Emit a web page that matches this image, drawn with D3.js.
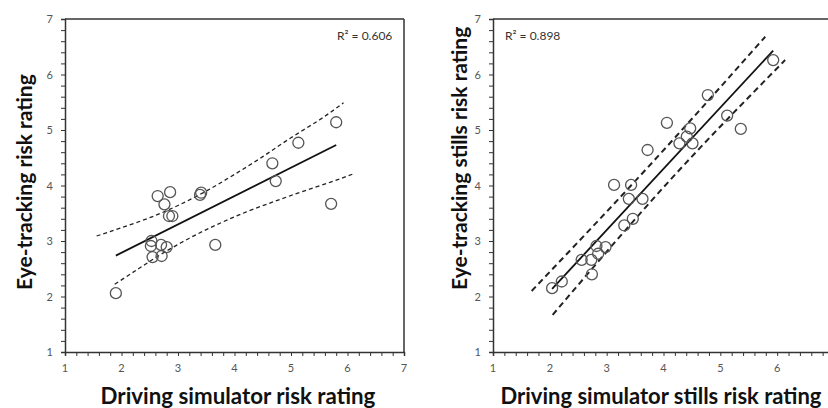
<!DOCTYPE html>
<html><head><meta charset="utf-8">
<script src="https://cdn.jsdelivr.net/npm/d3@7"></script>
<style>body{margin:0;background:#fff}svg{display:block}</style>
</head><body><svg id="c" width="828" height="408"></svg>
<script>
// ---- data ----
const leftSim   = [2.64,2.86,2.76,2.84,2.90,3.39,3.41,2.53,2.52,2.70,2.80,2.55,2.71,3.66,1.90,5.80,5.13,4.67,4.73,5.71];
const leftEye   = [3.81,3.88,3.66,3.45,3.45,3.83,3.87,3.00,2.91,2.93,2.89,2.71,2.73,2.93,2.06,5.14,4.77,4.40,4.08,3.67];
const rightSim  = [3.13,3.43,3.39,3.63,3.31,3.46,2.82,2.98,2.85,2.56,2.73,2.74,2.21,2.04,5.93,4.78,4.06,5.12,5.36,4.47,4.41,4.28,4.51,3.72];
const rightEye  = [4.01,4.01,3.76,3.76,3.28,3.40,2.91,2.89,2.77,2.66,2.66,2.40,2.27,2.15,6.26,5.63,5.13,5.26,5.02,5.03,4.88,4.76,4.76,4.64];
const leftUpperX = [1.56,2.0,2.5,3.0,3.5,4.0,4.5,5.0,5.5,5.93];
const leftUpperY = [3.09,3.24,3.42,3.64,3.90,4.20,4.52,4.86,5.18,5.49];
const leftLowerX = [1.88,2.3,2.7,3.2,3.7,4.2,4.7,5.2,5.7,6.13];
const leftLowerY = [2.22,2.50,2.76,3.05,3.30,3.52,3.71,3.89,4.06,4.22];
const rightUpperX = [1.68,3.7,5.79];
const rightUpperY = [2.10,4.30,6.68];
const rightLowerX = [2.05,4.1,6.14];
const rightLowerY = [1.67,4.08,6.26];
const majorTicks = [1,2,3,4,5,6,7];
const minorTicks = d3.range(1,7.001,0.2);
const leftR2 = "R² = 0.606";
const rightR2 = "R² = 0.898";
const leftXTitle = "Driving simulator risk rating";
const leftYTitle = "Eye-tracking risk rating";
const rightXTitle = "Driving simulator stills risk rating";
const rightYTitle = "Eye-tracking stills risk rating";

const W = 828;
const svg = d3.select("#c");

function regression(xs, ys){
  const n = xs.length, mx = d3.mean(xs), my = d3.mean(ys);
  let sxy=0, sxx=0;
  for(let i=0;i<n;i++){ sxy+=(xs[i]-mx)*(ys[i]-my); sxx+=(xs[i]-mx)**2; }
  const b = sxy/sxx, a = my - b*mx;
  return x => a + b*x;
}

function panel(cfg){
  const x = d3.scaleLinear().domain([1,7]).range([cfg.x0, cfg.x1]);
  const y = d3.scaleLinear().domain([1,7]).range([352, 19]);
  const g = svg.append("g");
  // frame top and right
  g.append("line").attr("x1",x(1)).attr("x2",x(7)).attr("y1",y(7)).attr("y2",y(7))
    .attr("stroke","#333").attr("stroke-width",1.5);
  g.append("line").attr("x1",x(7)).attr("x2",x(7)).attr("y1",y(7)).attr("y2",y(1))
    .attr("stroke","#333").attr("stroke-width",1.5);
  // axes
  const xa = g.append("g").attr("transform",`translate(0,${y(1)})`)
    .call(d3.axisBottom(x).tickValues(minorTicks).tickSize(4).tickFormat(""));
  const ya = g.append("g").attr("transform",`translate(${x(1)},0)`)
    .call(d3.axisLeft(y).tickValues(minorTicks).tickSize(4).tickFormat(""));
  [xa,ya].forEach(a=>{
    a.select(".domain").attr("stroke","#333").attr("stroke-width",1.5);
    a.selectAll(".tick line").attr("stroke","#333").attr("stroke-width",1);
  });
  const lab = g.append("g").attr("font-family","Lato, 'Open Sans', sans-serif")
    .attr("font-size",11).attr("fill","#555");
  lab.selectAll(".xl").data(majorTicks.filter(d=>x(d)+4<W)).join("text")
    .attr("x",d=>x(d)).attr("y",y(1)+20).attr("text-anchor","middle").text(d=>d);
  lab.selectAll(".yl").data(majorTicks).join("text")
    .attr("x",x(1)-12).attr("y",d=>y(d)+4).attr("text-anchor","end").text(d=>d);
  // titles
  g.append("text").attr("x",cfg.xTitleX).attr("y",404).attr("text-anchor","middle")
    .attr("font-family","Lato, sans-serif").attr("font-weight","bold").attr("font-size",cfg.xTitleSize)
    .attr("fill","#111").text(cfg.xTitle);
  g.append("text").attr("transform",`translate(${cfg.yTitleX},290) rotate(-90)`)
    .attr("text-anchor","start")
    .attr("font-family","Lato, sans-serif").attr("font-weight","bold").attr("font-size",21)
    .attr("fill","#111").text(cfg.yTitle);
  g.append("text").attr("x",cfg.r2x).attr("y",40)
    .attr("font-family","Lato, 'Open Sans', sans-serif").attr("font-size",12).attr("fill","#333")
    .text(cfg.r2);
  // bands
  const line = d3.line().x(d=>x(d[0])).y(d=>y(d[1])).curve(d3.curveNatural);
  [[cfg.ux,cfg.uy],[cfg.lx,cfg.ly]].forEach(([xs,ys])=>{
    g.append("path").attr("d",line(xs.map((v,i)=>[v,ys[i]])))
      .attr("fill","none").attr("stroke","#222").attr("stroke-width",cfg.dashW)
      .attr("stroke-dasharray",cfg.dash);
  });
  // fit
  const f = regression(cfg.xs, cfg.ys);
  const [mn,mx] = d3.extent(cfg.xs);
  g.append("line").attr("x1",x(mn)).attr("y1",y(f(mn))).attr("x2",x(mx)).attr("y2",y(f(mx)))
    .attr("stroke","#111").attr("stroke-width",1.8);
  // points
  g.selectAll("circle").data(cfg.xs.map((v,i)=>[v,cfg.ys[i]])).join("circle")
    .attr("cx",d=>x(d[0])).attr("cy",d=>y(d[1])).attr("r",5.5)
    .attr("fill","none").attr("stroke","#555").attr("stroke-width",1.3);
}

panel({x0:65,x1:404,xs:leftSim,ys:leftEye,ux:leftUpperX,uy:leftUpperY,lx:leftLowerX,ly:leftLowerY,
  xTitle:leftXTitle,xTitleX:238,xTitleSize:22.3,yTitle:leftYTitle,yTitleX:32,r2:leftR2,r2x:337,dash:"4,3",dashW:1.3});
panel({x0:493,x1:834,xs:rightSim,ys:rightEye,ux:rightUpperX,uy:rightUpperY,lx:rightLowerX,ly:rightLowerY,
  xTitle:rightXTitle,xTitleX:661,xTitleSize:22,yTitle:rightYTitle,yTitleX:467,r2:rightR2,r2x:505,dash:"6,4",dashW:2});
</script>
</body></html>
